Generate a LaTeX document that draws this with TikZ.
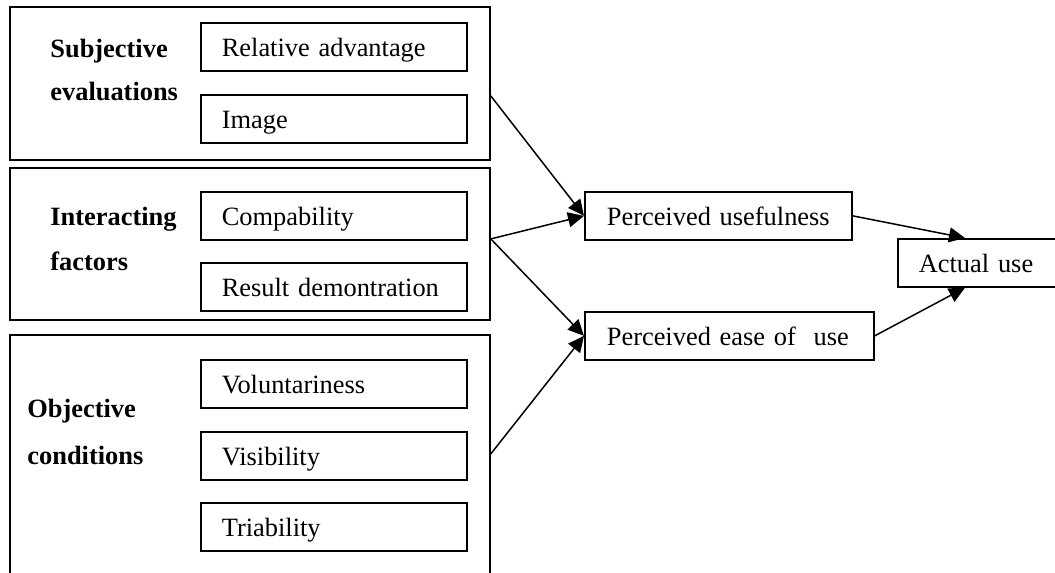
\documentclass[tikz,border=0pt]{standalone}
\usepackage{fontspec}
\setmainfont{Liberation Serif}
\usetikzlibrary{arrows.meta}

\begin{document}
\begin{tikzpicture}[
  x=0.5pt, y=-0.5pt,
  every node/.style={font=\fontsize{13.2pt}{16pt}\selectfont},
  groupbox/.style={draw, line width=0.9pt, anchor=north west, inner sep=0pt,
    minimum width=240pt},
  itembox/.style={draw, line width=0.85pt, anchor=north west,
    inner xsep=10.5pt, inner ysep=0pt, text height=17pt, text depth=7pt,
    align=left},
  grouplabel/.style={anchor=base west, inner sep=0pt,
    font=\fontsize{13.2pt}{16pt}\selectfont\bfseries},
  link/.style={line width=0.75pt, -{Triangle[length=8pt,width=7.5pt]}}
]
\clip (0,0) rectangle (1055,573);
\useasboundingbox (0,0) rectangle (1055,573);

% the three groups of factors
\node[groupbox, minimum height=76.5pt] (g1) at (9,6) {};
\node[groupbox, minimum height=76pt]   (g2) at (9,167) {};
\node[groupbox, minimum height=130pt]  (g3) at (9,334) {};

\node[grouplabel] (l1a) at (50,57)  {Subjective};
\node[grouplabel] (l1b) at (50,100) {evaluations};
\node[grouplabel] (l2a) at (50,225) {Interacting};
\node[grouplabel] (l2b) at (50,270) {factors};
\node[grouplabel] (l3a) at (27,417) {Objective};
\node[grouplabel] (l3b) at (27,464) {conditions};

% individual factors
\node[itembox, text width=112pt] (ra) at (200,22)  {Relative advantage};
\node[itembox, text width=112pt] (im) at (200,94)  {Image};
\node[itembox, text width=112pt] (co) at (200,191) {Compability};
\node[itembox, text width=112pt] (rd) at (200,262) {Result demontration};
\node[itembox, text width=112pt] (vo) at (200,359) {Voluntariness};
\node[itembox, text width=112pt] (vi) at (200,431) {Visibility};
\node[itembox, text width=112pt] (tr) at (200,502) {Triability};

% acceptance constructs
\node[itembox, text width=111.5pt, inner xsep=11pt] (pu) at (584,191) {Perceived usefulness};
\node[itembox, text width=122.5pt, inner xsep=11pt] (pe) at (584,311) {Perceived ease of\ \ use};
\node[itembox, text width=76pt] (au) at (897,238) {Actual use};

% influences
\draw[link] ([yshift=-6.25pt]g1.east) -- (pu.west);
\draw[link] ([yshift=2.5pt]g2.east) -- (pu.west);
\draw[link] ([yshift=2.5pt]g2.east) -- (pe.west);
\draw[link] ([yshift=5.5pt]g3.east) -- (pe.west);
\draw[link] (pu.east) -- ([xshift=34pt]au.north west);
\draw[link] (pe.east) -- ([xshift=34pt]au.south west);
\end{tikzpicture}
\end{document}
